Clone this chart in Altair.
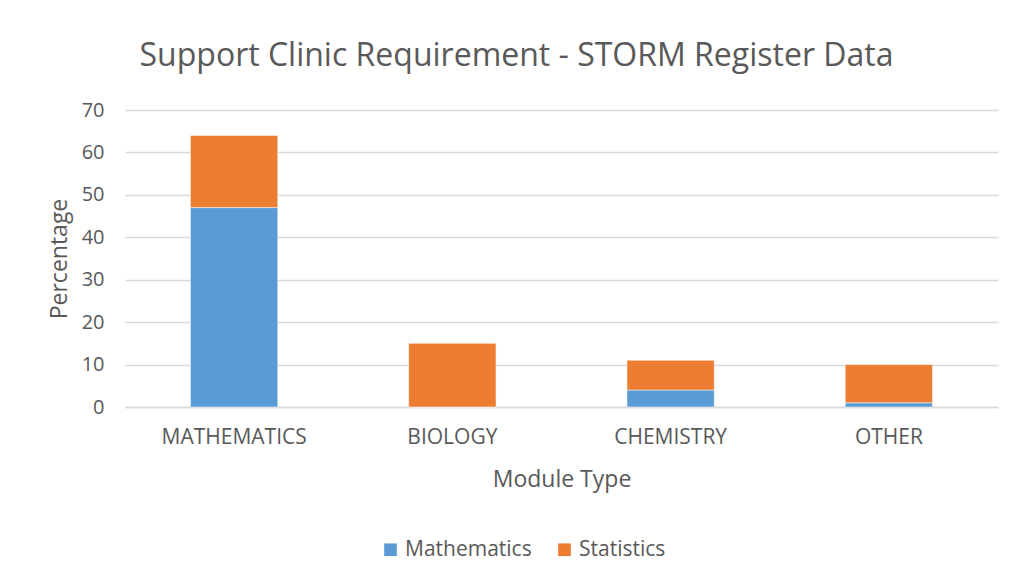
import altair as alt
import pandas as pd

categories = ["MATHEMATICS", "BIOLOGY", "CHEMISTRY", "OTHER"]
mathematics = [47, 0, 4, 1]
statistics = [17, 15, 7, 9]
series = ["Mathematics", "Statistics"]

rows = []
for c, m, s in zip(categories, mathematics, statistics):
    rows.append({"Module": c, "Series": "Mathematics", "Value": m, "order": 0})
    rows.append({"Module": c, "Series": "Statistics", "Value": s, "order": 1})
df = pd.DataFrame(rows)

FONT = "Open Sans"
GRAY = "#595959"

chart = alt.Chart(df).mark_bar(stroke="white", strokeWidth=0.5).encode(
    x=alt.X("Module:N", sort=categories,
            scale=alt.Scale(paddingInner=0.6, paddingOuter=0.3),
            axis=alt.Axis(title="Module Type", labelAngle=0, labelFontSize=21,
                          labelColor=GRAY, titleColor=GRAY, titleFontSize=23,
                          titleFontWeight="normal", labelPadding=19, titlePadding=21,
                          ticks=False, domainColor="#d9d9d9", domainWidth=1.5,
                          grid=False, labelFont=FONT, titleFont=FONT)),
    y=alt.Y("Value:Q", stack="zero",
            scale=alt.Scale(domain=[0, 70]),
            axis=alt.Axis(title="Percentage", values=[0, 10, 20, 30, 40, 50, 60, 70],
                          labelFontSize=20, labelColor=GRAY, titleColor=GRAY,
                          titleFontSize=23, titleFontWeight="normal", ticks=False,
                          domain=False, gridColor="#d9d9d9", gridWidth=1.5,
                          labelPadding=21, titlePadding=10,
                          labelFont=FONT, titleFont=FONT)),
    color=alt.Color("Series:N", sort=series,
                    scale=alt.Scale(domain=series, range=["#5B9BD5", "#ED7D31"]),
                    legend=alt.Legend(title=None, orient="none", direction="horizontal",
                                      legendX=255, legendY=429, symbolType="square",
                                      symbolSize=160, symbolStrokeWidth=0,
                                      labelFontSize=21, labelColor=GRAY, labelFont=FONT,
                                      columnPadding=22, labelOffset=4)),
    order=alt.Order("order:Q"),
).properties(
    width=873,
    height=297,
    title=alt.TitleParams("Support Clinic Requirement - STORM Register Data",
                          fontSize=32, font=FONT, color=GRAY, fontWeight="normal",
                          anchor="middle", dx=-45, offset=27),
    autosize=alt.AutoSizeParams(type="none"),
    padding={"left": 117, "top": 102, "right": 8, "bottom": 155},
).configure(background="white").configure_view(stroke=None, strokeWidth=0)

chart.save("out.html", embed_options={"renderer": "svg", "actions": False})
